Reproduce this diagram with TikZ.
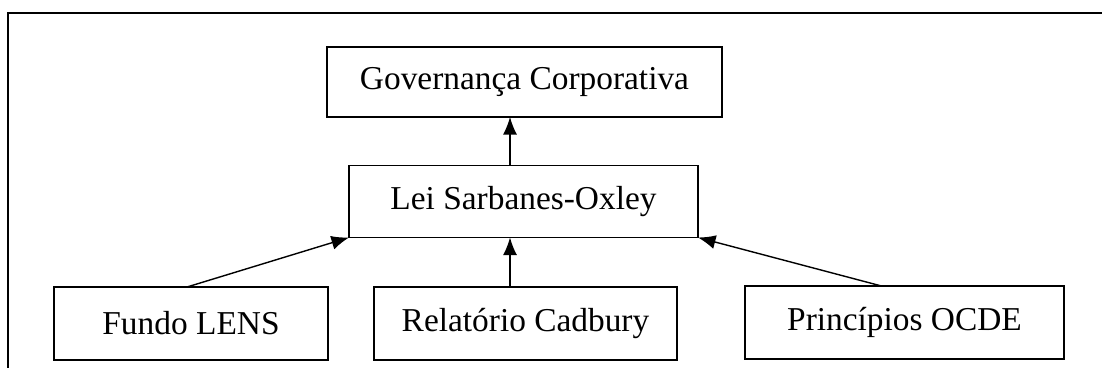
\documentclass[tikz,border=0pt]{standalone}
\usepackage{fontspec}
\setmainfont{Liberation Serif}
\usetikzlibrary{
  arrows.meta,
  calc,
  positioning
}
\tikzset{
  % For the boxes holding one label each.
  box/.style={
    draw,
    line width=0.9pt,
    inner sep=0pt,
    outer sep=0pt,
    minimum height=1.44cm,
    font=\fontsize{19pt}{22pt}\selectfont},
%
  % For the arrows between boxes.
  link/.style={
    line width=0.8pt,
    -{Latex[length=10pt,width=8pt]}},
%
  % For the surrounding frame.
  frame/.style={
    line width=0.9pt}
}

\begin{document}
\begin{tikzpicture}[x=0.02cm, y=-0.02cm]
  \useasboundingbox (0,0) rectangle (1102,368);

  \draw[frame] (1102,13) -- (8,13) -- (8,368);

  \node[box, minimum width=7.9cm, minimum height=1.4cm] (gov) at (524.5,82)
    {Governança Corporativa};
  \node[box, minimum width=6.98cm] (lei) at (523.5,201.5)
    {Lei Sarbanes-Oxley};

  \node[box, minimum width=5.48cm, minimum height=1.46cm] (fundo) at (191,323.5)
    {Fundo LENS};
  \node[box, minimum width=6.06cm, minimum height=1.46cm] (relatorio) at (525.5,323.5)
    {Relatório Cadbury};
  \node[box, minimum width=6.38cm, minimum height=1.46cm] (principios) at (904.5,322.5)
    {Princípios OCDE};

  \coordinate (stem) at (510,0);
  \draw[link] (lei.north -| stem) -- (gov.south -| stem);
  \draw[link] (relatorio.north -| stem) -- (lei.south -| stem);

  \draw[link] ($(fundo.north) + (-4,0)$) -- (lei.south west);
  \draw[link] ($(principios.north) + (-23,0)$) -- (lei.south east);
\end{tikzpicture}
\end{document}
